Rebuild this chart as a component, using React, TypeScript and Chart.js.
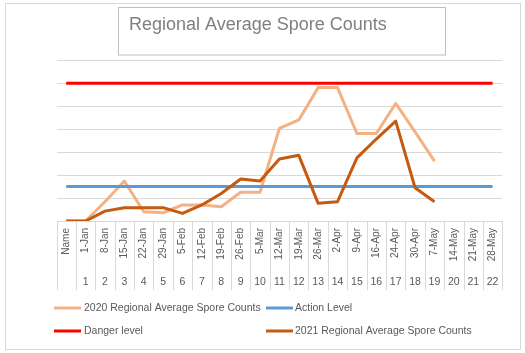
import React, { useEffect, useRef } from "react";
import { Chart, registerables } from "chart.js";

Chart.register(...registerables);

const categories = [
  "Name", "1-Jan", "8-Jan", "15-Jan", "22-Jan", "29-Jan", "5-Feb", "12-Feb", "19-Feb", "26-Feb",
  "5-Mar", "12-Mar", "19-Mar", "26-Mar", "2-Apr", "9-Apr", "16-Apr", "24-Apr", "30-Apr", "7-May",
  "14-May", "21-May", "28-May",
];
const weekNumbers = [
  "", "1", "2", "3", "4", "5", "6", "7", "8", "9", "10", "11", "12", "13", "14", "15", "16", "17",
  "18", "19", "20", "21", "22",
];
const counts2020 = [0, 0, 84, 174, 40, 36, 70, 70, 62, 125, 125, 403, 440, 581, 581, 381, 381, 512, 388, 261, null, null, null];
const counts2021 = [0, 0, 43, 58, 58, 58, 33, 70, 120, 183, 174, 270, 286, 77, 84, 275, 357, 435, 145, 84, null, null, null];
const actionLevel = [150, 150, 150, 150, 150, 150, 150, 150, 150, 150, 150, 150, 150, 150, 150, 150, 150, 150, 150, 150, 150, 150, 150];
const dangerLevel = [600, 600, 600, 600, 600, 600, 600, 600, 600, 600, 600, 600, 600, 600, 600, 600, 600, 600, 600, 600, 600, 600, 600];

const titleText = "Regional Average Spore Counts";
const seriesNames = [
  "2020 Regional Average Spore Counts",
  "Action Level",
  "Danger level",
  "2021 Regional Average Spore Counts",
];
const seriesColors = ["#F4B183", "#5B9BD5", "#FF0000", "#C55A11"];

const FONT = "'Liberation Sans', Arial, sans-serif";
const GRID = "#d9d9d9";
const TEXT = "#595959";

const decorPlugin = {
  id: "decor",
  afterDraw(chart: any) {
    const ctx = chart.ctx as CanvasRenderingContext2D;
    const xs = chart.scales.x;
    const area = chart.chartArea;
    ctx.save();
    // outer border
    ctx.strokeStyle = GRID;
    ctx.lineWidth = 1;
    ctx.strokeRect(5.5, 3.5, 515, 346);
    // title box
    ctx.strokeStyle = "#bfbfbf";
    ctx.strokeRect(118.5, 7.5, 327, 47.5);
    ctx.fillStyle = "#7f7f7f";
    ctx.font = `18px ${FONT}`;
    ctx.textAlign = "left";
    ctx.textBaseline = "alphabetic";
    ctx.fillText(titleText, 129, 30);

    // category separators
    const n = categories.length;
    const w = (area.right - area.left) / n;
    ctx.strokeStyle = GRID;
    ctx.beginPath();
    for (let i = 0; i <= n; i++) {
      const x = Math.round(area.left + i * w) + 0.5;
      ctx.moveTo(x, area.bottom);
      ctx.lineTo(x, 290);
    }
    ctx.stroke();

    // labels
    ctx.fillStyle = TEXT;
    ctx.font = `10px ${FONT}`;
    for (let i = 0; i < n; i++) {
      const x = xs.getPixelForValue(i);
      ctx.save();
      ctx.translate(x, 228);
      ctx.rotate(-Math.PI / 2);
      ctx.textAlign = "right";
      ctx.textBaseline = "middle";
      ctx.fillText(categories[i], 0, 0);
      ctx.restore();
      ctx.textAlign = "center";
      ctx.textBaseline = "middle";
      ctx.font = `10.5px ${FONT}`;
      ctx.fillText(weekNumbers[i], x, 282);
      ctx.font = `10px ${FONT}`;
    }

    // legend
    const items = [
      { lx: 54, tx: 84, y: 308 },
      { lx: 266, tx: 295, y: 308 },
      { lx: 54, tx: 84, y: 331 },
      { lx: 266, tx: 295, y: 331 },
    ];
    ctx.font = `10.5px ${FONT}`;
    ctx.textAlign = "left";
    ctx.textBaseline = "middle";
    items.forEach((it, i) => {
      ctx.strokeStyle = seriesColors[i];
      ctx.lineWidth = 3;
      ctx.beginPath();
      ctx.moveTo(it.lx, it.y);
      ctx.lineTo(it.lx + 27, it.y);
      ctx.stroke();
      ctx.fillStyle = TEXT;
      ctx.fillText(seriesNames[i], it.tx, it.y);
    });
    ctx.restore();
  },
};

export default function App() {
  const ref = useRef<HTMLCanvasElement | null>(null);
  useEffect(() => {
    if (!ref.current) return;
    const mk = (i: number, data: (number | null)[], order: number) => ({
      label: seriesNames[i],
      data,
      borderColor: seriesColors[i],
      backgroundColor: seriesColors[i],
      borderWidth: 3,
      pointRadius: 0,
      pointHoverRadius: 0,
      tension: 0,
      fill: false,
      spanGaps: false,
      borderJoinStyle: "round" as const,
      borderCapStyle: "butt" as const,
      order,
    });
    const chart = new Chart(ref.current, {
      type: "line",
      data: {
        labels: categories,
        datasets: [
          mk(0, counts2020, 3),
          mk(1, actionLevel, 2),
          mk(2, dangerLevel, 1),
          mk(3, counts2021, 0),
        ],
      },
      options: {
        animation: false,
        responsive: false,
        maintainAspectRatio: false,
        devicePixelRatio: 1,
        layout: { padding: { left: 56.5, right: 22.7, top: 60.3, bottom: 132 } },
        plugins: { legend: { display: false }, tooltip: { enabled: false }, title: { display: false } },
        scales: {
          x: {
            type: "category",
            offset: true,
            display: false,
          },
          y: {
            min: 0,
            max: 700,
            ticks: { display: false, stepSize: 100 },
            border: { display: false },
            grid: { color: GRID, lineWidth: 1, drawTicks: false },
            afterFit: (s: any) => {
              s.width = 0;
            },
          },
        },
      },
      plugins: [decorPlugin],
    });
    return () => chart.destroy();
  }, []);
  return (
    <div style={{ position: "absolute", left: 0, top: 0, width: 525, height: 353, background: "#fff" }}>
      <canvas ref={ref} width={525} height={353} style={{ display: "block", width: 525, height: 353 }} />
    </div>
  );
}
